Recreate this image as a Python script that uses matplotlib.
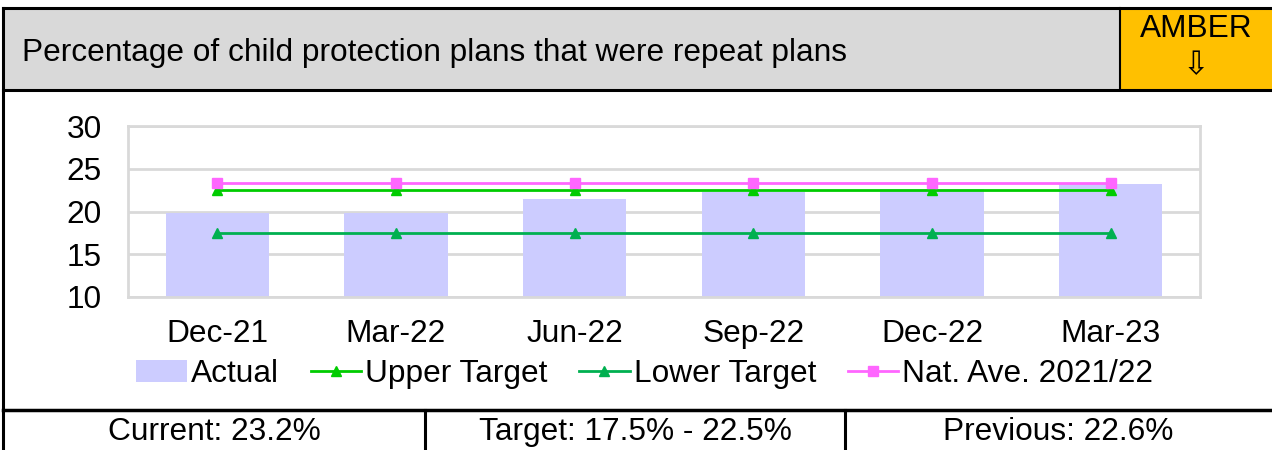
import matplotlib.pyplot as plt
from matplotlib.patches import Rectangle
from matplotlib.lines import Line2D
import numpy as np

plt.rcParams['font.family'] = ['Liberation Sans', 'DejaVu Sans']

# data
quarters = ["Dec-21", "Mar-22", "Jun-22", "Sep-22", "Dec-22", "Mar-23"]
actual = [19.8, 19.8, 21.5, 22.3, 22.6, 23.2]
upper_target = [22.5, 22.5, 22.5, 22.5, 22.5, 22.5]
lower_target = [17.5, 17.5, 17.5, 17.5, 17.5, 17.5]
nat_ave = [23.3, 23.3, 23.3, 23.3, 23.3, 23.3]
y_ticks = [10, 15, 20, 25, 30]

title = "Percentage of child protection plans that were repeat plans"
status = "AMBER"
footer = ["Current: 23.2%", "Target: 17.5% - 22.5%", "Previous: 22.6%"]

W, H = 1272, 450
FS = 22.8
fig = plt.figure(figsize=(W / 100, H / 100), dpi=100)


def fx(px):
    return px / W


def fy(py):
    return 1 - py / H


# header band and status box
fig.patches.append(Rectangle((fx(3), fy(90)), fx(1118), fy(8) - fy(90),
                             transform=fig.transFigure, facecolor="#d9d9d9",
                             edgecolor="none", zorder=0))
fig.patches.append(Rectangle((fx(1121), fy(90)), fx(W - 1121), fy(8) - fy(90),
                             transform=fig.transFigure, facecolor="#ffc000",
                             edgecolor="none", zorder=0))

frame_lines = [
    ((3, W), (8, 8), 2.2),
    ((3, W), (90, 90), 2.2),
    ((3, 3), (8, H), 2.2),
    ((1120, 1120), (8, 90), 1.5),
    ((3, W), (410, 410), 2.5),
    ((425, 425), (410, H), 2.2),
    ((845, 845), (410, H), 2.2),
]
for xs, ys, lw in frame_lines:
    fig.add_artist(Line2D([fx(x) for x in xs], [fy(y) for y in ys],
                          transform=fig.transFigure, color="black", lw=lw))

fig.text(fx(22), fy(53), title, fontsize=FS, va="center", ha="left")
fig.text(fx(1196), fy(29), status, fontsize=FS, va="center", ha="center")
fig.text(fx(1196), fy(66), "\u21e9", fontsize=FS, va="center", ha="center",
         family=["DejaVu Sans", "Noto Sans", "Noto Sans CJK SC",
                 "DejaVu Serif", "DejaVu Sans Mono"])

for txt, cx in zip(footer, [214, 635, 1058]):
    fig.text(fx(cx), fy(432), txt, fontsize=FS, va="center", ha="center")

# chart
ax = fig.add_axes([fx(128), fy(297), fx(1200 - 128), fy(126) - fy(297)])
x = np.arange(len(quarters))
bars = ax.bar(x, actual, width=0.58, color="#ccccff", label="Actual", zorder=2)
l1, = ax.plot(x, upper_target, color="#00cc00", marker="^", markersize=7,
              lw=2, label="Upper Target", zorder=3)
l2, = ax.plot(x, lower_target, color="#00b050", marker="^", markersize=7,
              lw=2, label="Lower Target", zorder=3)
l3, = ax.plot(x, nat_ave, color="#ff66ff", marker="s", markersize=7, lw=2,
              label="Nat. Ave. 2021/22", zorder=3)

ax.set_xlim(-0.5, len(quarters) - 0.5)
ax.set_ylim(10, 30)
ax.set_yticks(y_ticks)
ax.set_xticks(x)
ax.set_xticklabels(quarters)
ax.tick_params(axis="both", length=0, labelsize=FS)
ax.tick_params(axis="x", pad=16)
ax.tick_params(axis="y", pad=19)
ax.grid(axis="y", color="#d9d9d9", lw=2, zorder=0)
for s in ax.spines.values():
    s.set_color("#d9d9d9")
    s.set_linewidth(2)

ax.legend([bars, l1, l2, l3],
          ["Actual", "Upper Target", "Lower Target", "Nat. Ave. 2021/22"],
          loc="upper center", bbox_to_anchor=(0.482, -0.29), ncol=4,
          frameon=False, fontsize=FS, handlelength=1.6, handletextpad=0.12,
          columnspacing=1.0, borderaxespad=0)

fig.savefig("out.png", dpi=100)
